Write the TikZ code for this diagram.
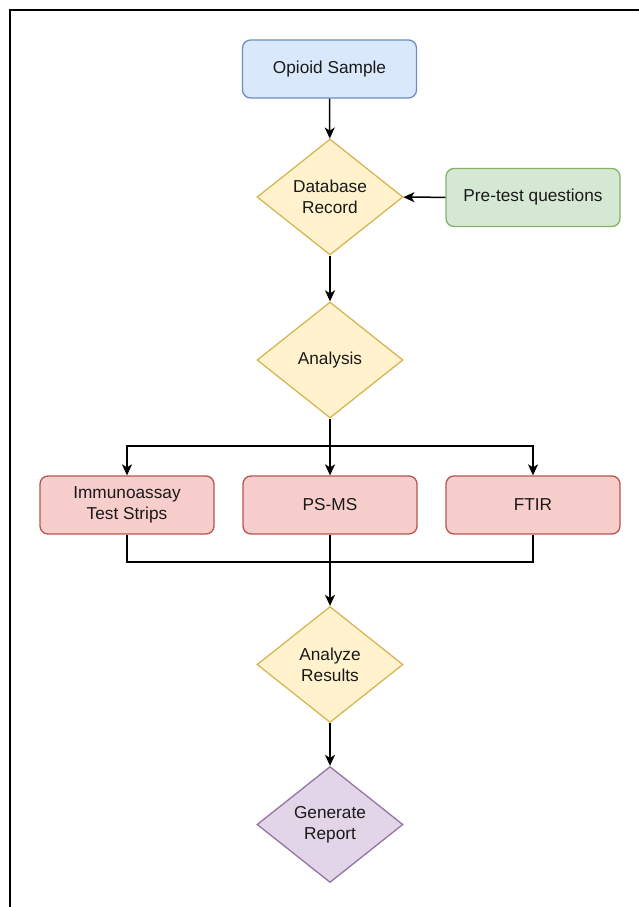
\documentclass[tikz,border=0pt]{standalone}
\usepackage{fontspec}
\setmainfont{Liberation Sans}
\usetikzlibrary{shapes.geometric,arrows.meta}
\definecolor{bluefill}{HTML}{DAE8FC}\definecolor{bluedraw}{HTML}{6C8EBF}
\definecolor{yelfill}{HTML}{FFF2CC}\definecolor{yeldraw}{HTML}{D6B656}
\definecolor{grnfill}{HTML}{D5E8D4}\definecolor{grndraw}{HTML}{82B366}
\definecolor{redfill}{HTML}{F8CECC}\definecolor{reddraw}{HTML}{B85450}
\definecolor{purfill}{HTML}{E1D5E7}\definecolor{purdraw}{HTML}{9673A6}
\tikzset{
  txt/.style={font=\fontsize{17.25}{21}\selectfont, align=center, text=black!90},
  rbox/.style={txt, draw, rounded corners=8pt, line width=1.3pt, minimum width=174pt, minimum height=58pt, inner sep=0pt},
  dia/.style={txt, diamond, draw, line width=1.3pt, minimum width=146pt, minimum height=116pt, inner sep=0pt, fill=yelfill, draw=yeldraw},
  arr/.style={line width=1.5pt, -{Stealth[length=11pt,width=10pt,inset=3pt]}},
  ln/.style={line width=1.5pt}
}
\begin{document}
\begin{tikzpicture}[x=1pt,y=-1pt]
\useasboundingbox (0,0) rectangle (639,907);
\fill[white] (0,0) rectangle (639,907);
\draw[line width=2pt] (9.5,920) -- (9.5,10.5) -- (660,10.5);
\node[rbox, fill=bluefill, draw=bluedraw] (os) at (329.5,69) {\raisebox{-2pt}{Opioid Sample}};
\node[dia] (db) at (330,197) {Database\\Record};
\node[rbox, fill=grnfill, draw=grndraw] (pt) at (533,197.5) {\raisebox{-2pt}{Pre-test questions}};
\node[dia] (an) at (330,360) {\raisebox{-2pt}{Analysis}};
\node[rbox, fill=redfill, draw=reddraw] (imm) at (127,505) {Immunoassay\\Test Strips};
\node[rbox, fill=redfill, draw=reddraw] (ps) at (330,505) {\raisebox{-2pt}{PS-MS}};
\node[rbox, fill=redfill, draw=reddraw] (ft) at (533,505) {\raisebox{-2pt}{FTIR}};
\node[dia] (ar) at (330,664.5) {Analyze\\Results};
\node[dia, fill=purfill, draw=purdraw] (gr) at (330,824.5) {Generate\\Report};
\coordinate (split) at (330,446);
\coordinate (merge) at (330,562);
\draw[arr] (os) -- (db);
\draw[arr] (pt) -- (db);
\draw[arr] (db) -- (an);
\draw[arr] (an) -- (ps);
\draw[arr] (split) -| (imm);
\draw[arr] (split) -| (ft);
\draw[ln] (imm.south) |- (merge);
\draw[ln] (ft.south) |- (merge);
\draw[arr] (ps) -- (ar);
\draw[arr] (ar) -- (gr);
\end{tikzpicture}
\end{document}
